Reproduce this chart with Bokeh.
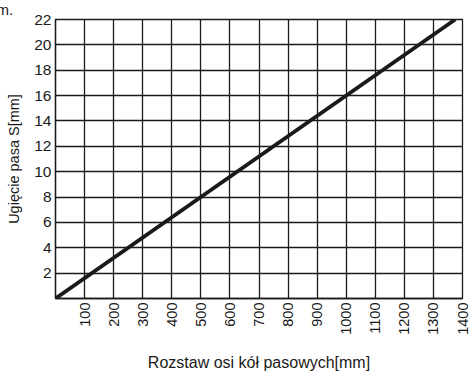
import math
from bokeh.plotting import figure
from bokeh.models import Range1d, FixedTicker
from bokeh.embed import file_html
from bokeh.resources import INLINE

# Belt deflection S vs. pulley centre distance
distance_mm = [0, 1375]
deflection_mm = [0, 22]

x_ticks = [100, 200, 300, 400, 500, 600, 700, 800, 900, 1000, 1100, 1200, 1300, 1400]
y_ticks = [2, 4, 6, 8, 10, 12, 14, 16, 18, 20, 22]
grid_x = [0] + x_ticks
grid_y = [0] + y_ticks

FONT = "Liberation Sans"
INK = "#1a1a1a"

p = figure(width=470, height=373, output_backend="svg", toolbar_location=None,
           x_range=Range1d(0, 1400), y_range=Range1d(0, 22),
           min_border_left=55, min_border_right=8, min_border_top=17,
           min_border_bottom=72, title="m.")
p.outline_line_color = INK
p.outline_line_width = 1.3
p.background_fill_color = "white"
p.border_fill_color = "white"

# tail of a caption line sitting above the chart
p.title.align = "left"
p.title.vertical_align = "top"
p.title.offset = -59
p.title.standoff = 0
p.title.text_font = FONT
p.title.text_font_size = "15px"
p.title.text_font_style = "normal"
p.title.text_color = INK
p.title.text_line_height = 0.6

# grid
p.xgrid.ticker = FixedTicker(ticks=grid_x)
p.ygrid.ticker = FixedTicker(ticks=grid_y)
for g in (p.xgrid[0], p.ygrid[0]):
    g.grid_line_color = INK
    g.grid_line_width = 1.3

# axes
p.xaxis.ticker = FixedTicker(ticks=x_ticks)
p.yaxis.ticker = FixedTicker(ticks=y_ticks)
for ax in (p.xaxis[0], p.yaxis[0]):
    ax.axis_line_color = INK
    ax.axis_line_width = 1.3
    ax.major_tick_in = 0
    ax.major_tick_out = 0
    ax.minor_tick_line_color = None
    ax.major_label_text_font = FONT
    ax.major_label_text_color = INK
    ax.axis_label_text_font = FONT
    ax.axis_label_text_font_style = "normal"
    ax.axis_label_text_color = INK

p.yaxis.major_label_text_font_size = "15.5px"
p.xaxis.major_label_text_font_size = "14.5px"
p.xaxis.axis_label_text_font_size = "16px"
p.yaxis.axis_label_text_font_size = "14.5px"

p.xaxis.major_label_orientation = math.pi / 2
p.xaxis.major_label_standoff = 4
p.yaxis.major_label_standoff = 4
p.xaxis.axis_label = "Rozstaw osi kół pasowych[mm]"
p.yaxis.axis_label = "Ugięcie pasa S[mm]"
p.xaxis.axis_label_standoff = 16
p.yaxis.axis_label_standoff = 9

p.line(distance_mm, deflection_mm, line_color=INK, line_width=3.8)

open("out.html", "w").write(file_html(p, INLINE))
